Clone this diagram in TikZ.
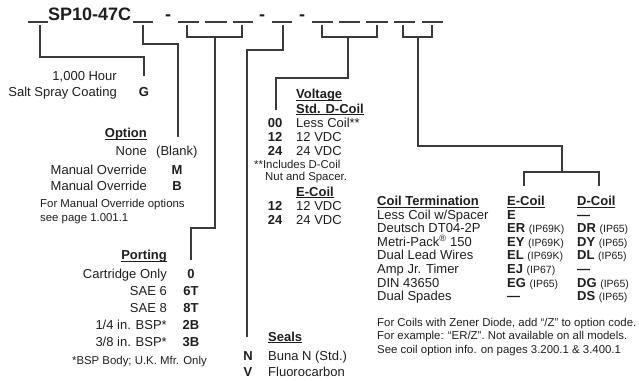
\documentclass[tikz,border=0pt]{standalone}
\usepackage{fontspec}
\setmainfont{Liberation Sans}

\definecolor{ink}{HTML}{1E1E1E}
\definecolor{wire}{HTML}{3A3A3A}

% underlined heading, rule just under the baseline
\newcommand{\hdline}[1]{\setbox0\hbox{#1}\rlap{\rule[-2.2pt]{\wd0}{0.9pt}}\box0}
% protection class in small type
\newcommand{\ip}[1]{{\fontsize{10.5}{12}\selectfont\mdseries(#1)}}

\begin{document}
\begin{tikzpicture}[
  x           = 1pt,
  y           = -1pt,
  txt/.style  = {inner sep = 0pt, text = ink, font = \fontsize{13}{15}\selectfont},
  code/.style = {txt, anchor = base, font = \fontsize{13}{15}\selectfont\bfseries},
  head/.style = {txt, font = \fontsize{13}{15}\selectfont\bfseries},
  note/.style = {txt, anchor = base west, font = \fontsize{11.4}{13}\selectfont},
  slot/.style = {draw = wire, line width = 1.4pt},
  link/.style = {draw = wire, line width = 1.2pt},
  ]
\useasboundingbox (0, 0) rectangle (639, 380);

% model code line
\node at (48, 20) [
  anchor     = base west,
  inner sep  = 0pt,
  font       = \fontsize{18}{20}\selectfont\bfseries,
  text       = ink,
  ]
  (model)
  {SP10-47C} ;
\foreach \x [count=\i] in {168, 262, 302}
  \node at (\x, 20) [anchor = base, inner sep = 0pt, text = ink,
    font = \fontsize{18}{20}\selectfont\bfseries] (dash\i) {-} ;
\foreach \a/\b/\t [count=\i] in {28/48/40, 133/153/143, 178/199/187, 205/227/215,
    233/253/242, 272/292/283, 312/333/322, 339/360/348, 366/388/377,
    394/415/403, 422/443/432} {
  \draw [slot] (\a, 22) -- (\b, 22) ;
  \coordinate (s\i) at (\t, 25) ;
}
\coordinate (cstem) at (418, 37) ;

% coating
\node at (117, 80.5) [txt, anchor = base east] (hour) {1,000 Hour} ;
\node at (117, 96.5) [txt, anchor = base east] (salt) {Salt Spray Coating} ;
\node at (144, 96.5) [code] (G) {G} ;
\coordinate (coat) at (144, 76) ;

% option
\node at (147, 137.5) [head, anchor = base east] (option) {\hdline{Option}} ;
\node at (147, 155.5) [txt, anchor = base east] (none) {None} ;
\node at (156, 155.5) [txt, anchor = base west] (blank) {(Blank)} ;
\node at (147, 174.5) [txt, anchor = base east] (override1) {Manual Override} ;
\node at (177, 174.5) [code] (M) {M} ;
\node at (147, 190.5) [txt, anchor = base east] (override2) {Manual Override} ;
\node at (177, 190.5) [code] (B) {B} ;
\node at (40, 207) [note] (optnote1) {For Manual Override options} ;
\node at (40, 221) [note] (optnote2) {see page 1.001.1} ;
\coordinate (opt) at (178, 137) ;

% porting
\node at (167, 259.5) [head, anchor = base east] (porting) {\hdline{Porting}} ;
\foreach \lbl/\cd [count=\i] in {Cartridge Only/0, SAE 6/6T, SAE 8/8T,
    {1/4 in. BSP*}/2B, {3/8 in. BSP*}/3B} {
  \node at (167, 261.6 + 17*\i) [txt, anchor = base east] (port\i) {\lbl} ;
  \node at (191, 261.6 + 17*\i) [code] (pcode\i) {\cd} ;
}
\node at (207, 364) [note, anchor = base east] (bspnote) {*BSP Body; U.K. Mfr. Only} ;
\coordinate (port) at (191, 260) ;

% seals
\node at (268, 341) [head, anchor = base west] (seals) {\hdline{Seals}} ;
\node at (248, 360.5) [code] (N) {N} ;
\node at (268, 360.5) [txt, anchor = base west] (buna) {Buna N (Std.)} ;
\node at (248, 376.5) [code] (V) {V} ;
\node at (268, 376.5) [txt, anchor = base west] (fluoro) {Fluorocarbon} ;
\coordinate (seal) at (247, 337) ;

% voltage
\node at (296, 98.5) [head, anchor = base west] (voltage) {\hdline{Voltage}} ;
\node at (296, 113) [head, anchor = base west] (dcoil) {\hdline{Std. D-Coil}} ;
\foreach \cd/\lbl [count=\i] in {00/Less Coil**, 12/12 VDC, 24/24 VDC} {
  \node at (275, 113.5 + 14*\i) [code] (dv\i) {\cd} ;
  \node at (296, 113.5 + 14*\i) [txt, anchor = base west] (dl\i) {\lbl} ;
}
\node at (254, 168) [note] (dnote1) {**Includes D-Coil} ;
\node at (265, 180) [note] (dnote2) {Nut and Spacer.} ;
\node at (296, 196) [head, anchor = base west] (ecoil) {\hdline{E-Coil}} ;
\foreach \cd/\lbl [count=\i] in {12/12 VDC, 24/24 VDC} {
  \node at (275, 196 + 14*\i) [code] (ev\i) {\cd} ;
  \node at (296, 196 + 14*\i) [txt, anchor = base west] (el\i) {\lbl} ;
}
\coordinate (volt) at (276, 110) ;

% coil termination
\node at (377, 205.5) [head, anchor = base west] (term) {\hdline{Coil Termination}} ;
\node at (507, 205.5) [head, anchor = base west] (ehead) {\hdline{E-Coil}} ;
\node at (577, 205.5) [head, anchor = base west] (dhead) {\hdline{D-Coil}} ;
\foreach \lbl/\ec/\dc [count=\i] in {
    {Less Coil w/Spacer}/E/\textemdash,
    {Deutsch DT04-2P}/{ER \ip{IP69K}}/{DR \ip{IP65}},
    {Metri-Pack\textsuperscript{\textregistered} 150}/{EY \ip{IP69K}}/{DY \ip{IP65}},
    {Dual Lead Wires}/{EL \ip{IP69K}}/{DL \ip{IP65}},
    {Amp Jr. Timer}/{EJ \ip{IP67}}/\textemdash,
    {DIN 43650}/{EG \ip{IP65}}/{DG \ip{IP65}},
    {Dual Spades}/\textemdash/{DS \ip{IP65}}} {
  \node at (377, 205.5 + 13.6*\i) [txt, anchor = base west] (tname\i) {\lbl} ;
  \node at (507, 205.5 + 13.6*\i) [code, anchor = base west] (ecode\i) {\ec} ;
  \node at (577, 205.5 + 13.6*\i) [code, anchor = base west] (dcode\i) {\dc} ;
}
\node at (377, 326) [note] (zener1) {For Coils with Zener Diode, add ``/Z'' to option code.} ;
\node at (377, 339.5) [note] (zener2) {For example: ``ER/Z''. Not available on all models.} ;
\node at (377, 353) [note] (zener3) {See coil option info. on pages 3.200.1 \& 3.400.1} ;
\coordinate (etick) at (524, 186) ;
\coordinate (dtick) at (599, 186) ;
\coordinate (cbr) at (562, 172) ;

% connectors
\draw [link] (s1) -- ++(0, 32) -| (coat) ;
\draw [link] (s2) -- ++(0, 19) -| (opt) ;
\draw [link] (s3) -- ++(0, 12) -| (s5) ;
\draw [link] (s4) ++(0, 12) -- ++(0, 191) -| (port) ;
\draw [link] (s6) -- ++(0, 25) -| (seal) ;
\draw [link] (s7) -- ++(0, 12) -| (s9) ;
\draw [link] (s8) ++(0, 12) -- ++(0, 41) -| (volt) ;
\draw [link] (s10) -- ++(0, 12) -| (s11) ;
\draw [link] (cstem) -- ++(0, 109) -| (cbr) ;
\draw [link] (etick) -- ++(0, -14) -| (dtick) ;
\end{tikzpicture}
\end{document}
